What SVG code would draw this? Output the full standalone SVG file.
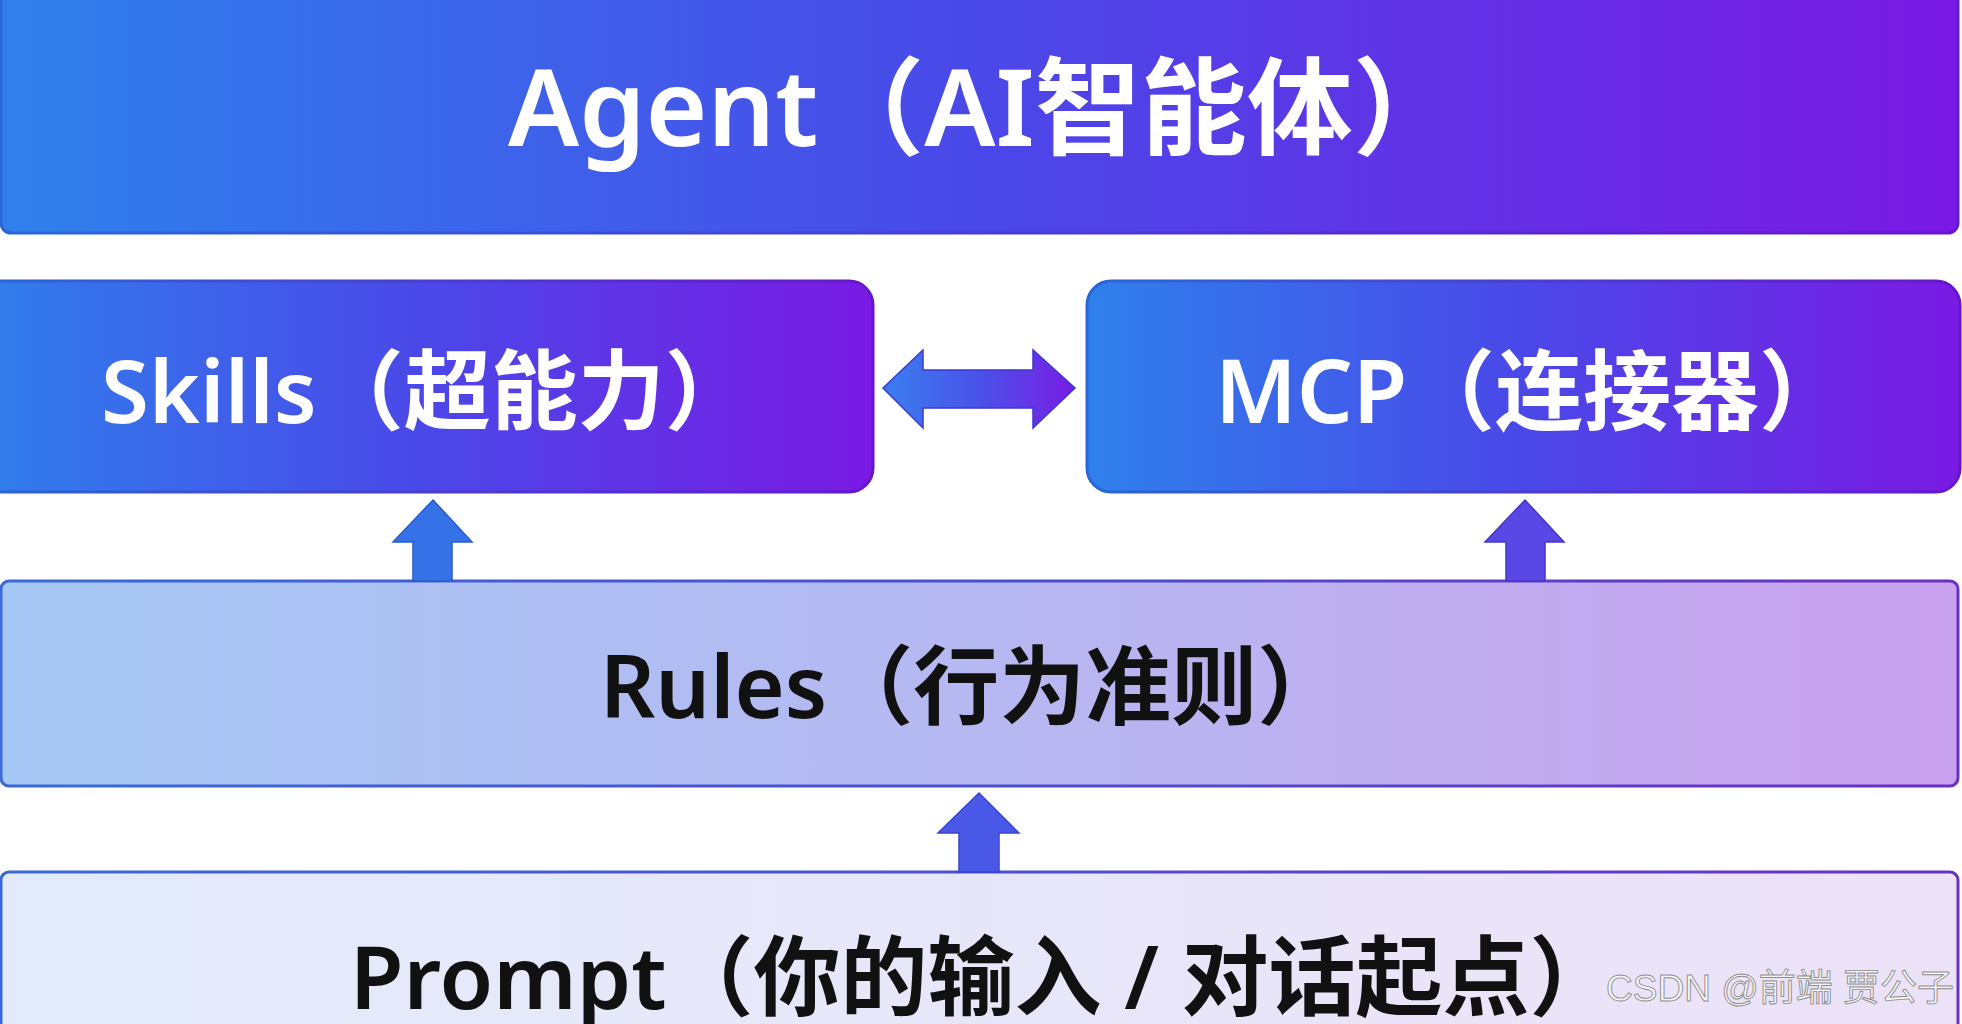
<svg xmlns="http://www.w3.org/2000/svg" width="1962" height="1024" viewBox="0 0 1962 1024">
  <defs>
    <linearGradient id="gDark" x1="0" y1="0" x2="1" y2="0">
      <stop offset="0" stop-color="#2f80ec"/>
      <stop offset="0.5" stop-color="#4a48e8"/>
      <stop offset="1" stop-color="#7a1ae4"/>
    </linearGradient>
    <linearGradient id="gDarkStroke" x1="0" y1="0" x2="1" y2="0">
      <stop offset="0" stop-color="#2a66d6"/>
      <stop offset="1" stop-color="#6716cc"/>
    </linearGradient>
    <linearGradient id="gRules" x1="0" y1="0" x2="1" y2="0">
      <stop offset="0" stop-color="#a5c7f4"/>
      <stop offset="0.5" stop-color="#b6b8f1"/>
      <stop offset="1" stop-color="#c9a2ee"/>
    </linearGradient>
    <linearGradient id="gRulesStroke" x1="0" y1="0" x2="1" y2="0">
      <stop offset="0" stop-color="#3a6ad6"/>
      <stop offset="0.5" stop-color="#4a4fd2"/>
      <stop offset="1" stop-color="#6a30c4"/>
    </linearGradient>
    <linearGradient id="gPrompt" x1="0" y1="0" x2="1" y2="0">
      <stop offset="0" stop-color="#e3ebfa"/>
      <stop offset="1" stop-color="#ece2f8"/>
    </linearGradient>
    <linearGradient id="gArrowH" x1="0" y1="0" x2="1" y2="0">
      <stop offset="0" stop-color="#3a7ff0"/>
      <stop offset="0.5" stop-color="#4a52e8"/>
      <stop offset="1" stop-color="#7a1ce4"/>
    </linearGradient>
    <style>
      .dark { fill: url(#gDark); stroke: url(#gDarkStroke); stroke-width: 3; }
      .wt { font-family: "Noto Sans", "Noto Sans CJK SC", sans-serif; font-weight: 600; fill: #ffffff; }
      .bt { font-family: "Noto Sans", "Noto Sans CJK SC", sans-serif; font-weight: 600; fill: #111111; }
      .arrow { stroke-width: 1.5; stroke-linejoin: miter; }
      .wm { font-family: "Liberation Sans", "Noto Sans CJK SC", sans-serif; font-size: 37px; fill: #f6f6f6; stroke: #8c8c8c; stroke-width: 0.9; }
    </style>
  </defs>
  <rect x="0" y="0" width="1962" height="1024" fill="#ffffff"/>

  <g id="agent">
    <rect class="dark" x="1" y="-20" width="1957" height="253" rx="10"/>
    <text class="wt" x="508" y="146" font-size="106">Agent（AI智能体）</text>
  </g>

  <g id="skills">
    <rect class="dark" x="-30" y="281" width="903" height="211" rx="24"/>
    <text class="wt" x="101" y="423" font-size="87">Skills（超能力）</text>
  </g>

  <g id="mcp">
    <rect class="dark" x="1087" y="281" width="873" height="211" rx="24"/>
    <text class="wt" x="1215" y="423" font-size="88">MCP（连接器）</text>
  </g>

  <g id="rules">
    <rect x="1" y="581" width="1957" height="205" rx="8" fill="url(#gRules)" stroke="url(#gRulesStroke)" stroke-width="3"/>
    <text class="bt" x="600" y="718" font-size="86">Rules（行为准则）</text>
  </g>

  <g id="prompt">
    <rect x="1" y="872" width="1957" height="200" rx="8" fill="url(#gPrompt)" stroke="url(#gRulesStroke)" stroke-width="3"/>
    <text class="bt" x="350" y="1009" font-size="87">Prompt（你的输入 / 对话起点）</text>
  </g>

  <g id="connectors">
    <polygon class="arrow" fill="url(#gArrowH)" stroke="#3a3ad0" points="883,388 923,350 923,370 1033,370 1033,350 1075,388 1033,428 1033,408 923,408 923,428"/>
    <polygon class="arrow" fill="#3572e8" stroke="#2a5ccc" points="433,500 472,542 452,542 452,581 413,581 413,542 393,542"/>
    <polygon class="arrow" fill="#5a48e6" stroke="#4636c8" points="1525,500 1564,542 1545,542 1545,581 1506,581 1506,542 1485,542"/>
    <polygon class="arrow" fill="#4a58e8" stroke="#3a44cc" points="979,793 1019,833 999,833 999,872 959,872 959,833 938,833"/>
  </g>

  <text class="wm" x="1954" y="1001" text-anchor="end">CSDN @前端 贾公子</text>
</svg>
